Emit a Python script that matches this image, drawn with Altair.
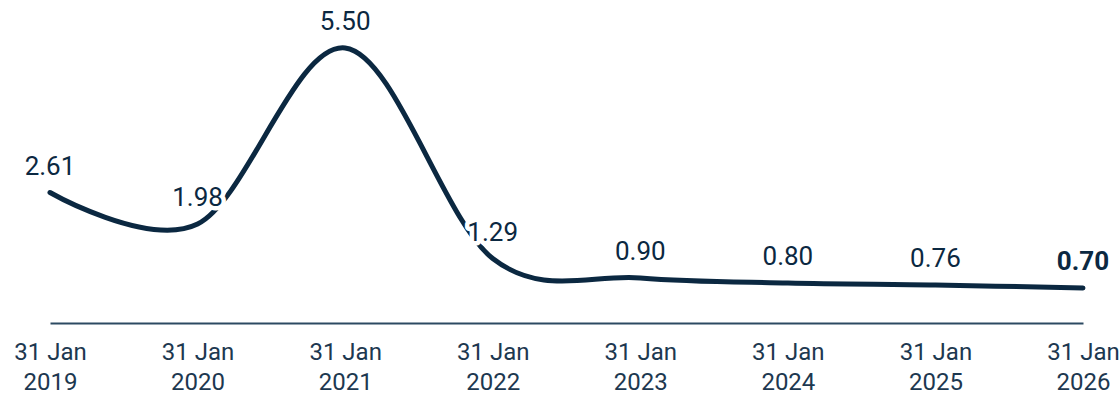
import altair as alt
import pandas as pd

# Values at 31 January of each year
years = ["2019", "2020", "2021", "2022", "2023", "2024", "2025", "2026"]
values = [2.61, 1.98, 5.50, 1.29, 0.90, 0.80, 0.76, 0.70]
labels = ["2.61", "1.98", "5.50", "1.29", "0.90", "0.80", "0.76", "0.70"]

df = pd.DataFrame({"year": years, "value": values, "label": labels})
df["latest"] = df["year"] == years[-1]

NAVY = "#0b2841"
FONT = "Roboto"

x = alt.X(
    "year:O",
    scale=alt.Scale(type="point", padding=0),
    axis=alt.Axis(
        title=None,
        ticks=False,
        grid=False,
        domainColor="#2c4a62",
        domainWidth=2,
        labelAngle=0,
        labelFont=FONT,
        labelFontSize=24,
        labelColor="#1d3850",
        labelPadding=17,
        labelLineHeight=30,
        labelOverlap=False,
        labelBound=False,
        labelFlush=False,
        labelExpr="['31 Jan', datum.label]",
    ),
)
y = alt.Y("value:Q", scale=alt.Scale(domain=[0, 6.46], nice=False, zero=True), axis=None)

base = alt.Chart(df).encode(x=x, y=y)

line = base.mark_line(
    interpolate="cardinal", strokeWidth=5, strokeCap="round", color=NAVY
)

text_style = dict(font=FONT, fontSize=26, dy=-26, baseline="middle", align="center")

halo = base.mark_text(stroke="white", strokeWidth=9, strokeJoin="round",
                      color="white", **text_style).encode(text="label:N")

regular = base.transform_filter("!datum.latest").mark_text(
    color=NAVY, fontWeight="normal", **text_style
).encode(text="label:N")

bold = base.transform_filter("datum.latest").mark_text(
    color=NAVY, fontWeight="bold", **text_style
).encode(text="label:N")

chart = (
    alt.layer(line, halo, regular, bold)
    .properties(
        width=1033,
        height=323,
        autosize=alt.AutoSizeParams(type="none"),
        padding={"left": 50, "top": 0, "right": 36, "bottom": 74},
        background="white",
    )
    .configure_view(strokeWidth=0, stroke="transparent")
)

chart.save("out.html", embed_options={"renderer": "svg", "actions": False})
